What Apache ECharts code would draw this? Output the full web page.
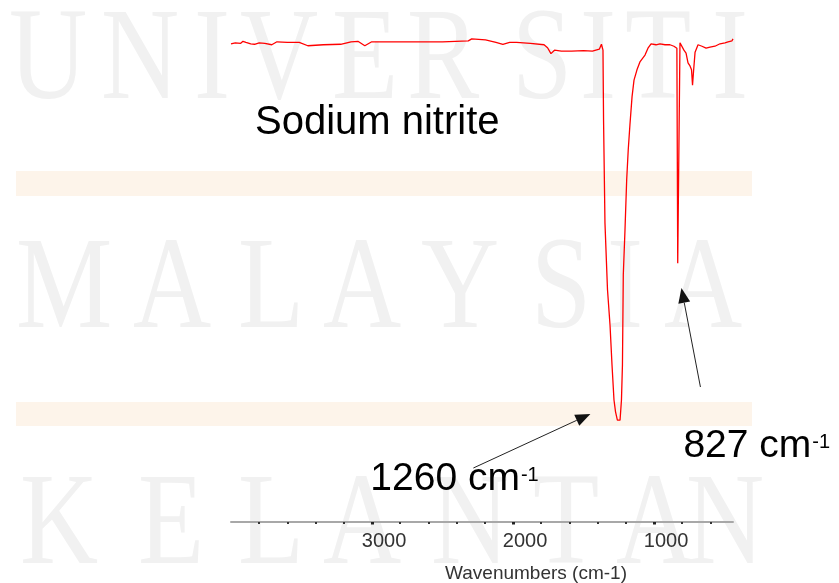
<!DOCTYPE html>
<html>
<head>
<meta charset="utf-8">
<title>Sodium nitrite IR spectrum</title>
<script src="https://cdn.jsdelivr.net/npm/echarts@6/dist/echarts.min.js"></script>
<style>
  html, body { margin: 0; padding: 0; background: #ffffff; }
  #chart { width: 839px; height: 583px; }
</style>
</head>
<body>
<div id="chart"></div>
<script>
// FT-IR spectrum of sodium nitrite (wavenumber in cm-1, % transmittance)
const wavenumber = [
  4000, 3970, 3931, 3915, 3894, 3860, 3833, 3800, 3760, 3711, 3674, 3600, 3516, 3455,
  3400, 3345, 3222, 3149, 3100, 3051, 3002, 2900, 2700, 2500, 2317, 2293, 2195, 2121,
  2072, 2024, 1975, 1877, 1780, 1755, 1731, 1706, 1657, 1584, 1500, 1437, 1388, 1373,
  1362, 1358, 1348, 1330, 1312, 1298, 1284, 1273, 1260, 1241, 1231, 1224, 1218, 1206,
  1194, 1183, 1171, 1156, 1142, 1121, 1100, 1064, 1043, 1021, 1007, 986, 958, 922,
  887, 859, 845, 838, 832, 827, 822, 816, 806, 788, 773, 759, 745, 734, 727, 720,
  709, 688, 660, 631, 603, 568, 532, 497, 475, 461, 447, 440
];
const transmittance = [
  97.2, 97.4, 97.3, 97.7, 97.5, 97.2, 97.1, 97.4, 97.3, 97.0, 97.6, 97.5, 97.5, 96.8,
  96.9, 97.0, 97.1, 97.6, 97.7, 96.8, 97.6, 97.6, 97.6, 97.6, 97.8, 98.2, 98.0, 97.5,
  97.1, 97.5, 97.5, 97.3, 97.0, 96.4, 95.2, 95.9, 95.7, 95.7, 95.8, 95.7, 96.1, 97.1,
  95.9, 81.7, 60.8, 47.2, 40.0, 31.9, 24.8, 22.4, 20.7, 20.7, 24.8, 31.9, 50.2, 59.3,
  69.5, 75.6, 80.7, 86.4, 89.8, 91.9, 93.5, 94.9, 96.3, 97.2, 97.4, 97.0, 97.2, 97.0,
  97.0, 96.7, 96.4, 96.3, 52.6, 52.6, 52.6, 97.4, 97.4, 95.9, 95.3, 93.3, 92.7, 91.9, 88.8, 91.5,
  95.5, 97.0, 96.7, 96.3, 96.5, 96.7, 97.2, 97.4, 97.6, 98.0, 97.8, 98.2
];

// Axis ticks
const majorTicks = [1000, 2000, 3000];
const minorTicks = [600, 800, 1200, 1400, 1600, 1800, 2200, 2400, 2600, 2800, 3200, 3400, 3600, 3800];

// Annotated absorption bands
const peakWavenumbers = [1260, 827];
const peakTexts = ['1260 cm', '827 cm'];

// Background lettering
const bannerRows = ['UNIVERSITI', 'MALAYSIA', 'KELANTAN'];

const chart = echarts.init(document.getElementById('chart'), null, { renderer: 'canvas' });

const points = wavenumber.map((w, i) => [w, transmittance[i]]);

const xCommon = {
  type: 'value',
  min: 440,
  max: 4000,
  inverse: true,
  position: 'bottom',
  offset: 0,
  splitLine: { show: false }
};

chart.setOption({
  animation: false,
  backgroundColor: '#ffffff',
  grid: { left: 231, right: 106, top: 30, bottom: 61, outerBoundsMode: 'none', containLabel: false },
  xAxis: [
    Object.assign({}, xCommon, {
      axisLine: { show: true, lineStyle: { color: '#a8a8a8', width: 2 } },
      axisTick: {
        show: true, length: 2, customValues: minorTicks,
        lineStyle: { color: '#333333', width: 2 }
      },
      axisLabel: {
        show: true, customValues: majorTicks, margin: 9,
        formatter: v => String(v),
        fontFamily: 'Liberation Sans', fontSize: 20, color: '#333333',
        padding: [0, 0, 0, 24]
      },
      name: 'Wavenumbers (cm-1)',
      nameLocation: 'middle',
      nameGap: 42,
      nameTextStyle: {
        fontFamily: 'Liberation Sans', fontSize: 19, color: '#333333',
        padding: [0, 0, 0, 108]
      }
    }),
    Object.assign({}, xCommon, {
      axisLine: { show: false },
      axisTick: {
        show: true, length: 2.5, customValues: majorTicks,
        lineStyle: { color: '#222222', width: 3 }
      },
      axisLabel: { show: false }
    })
  ],
  yAxis: { type: 'value', min: 0, max: 100, show: false },
  series: [{
    type: 'line',
    xAxisIndex: 0,
    data: points,
    showSymbol: false,
    lineStyle: { color: '#ff0000', width: 1.3 },
    z: 5
  }]
});

// Watermark letters: character centre x per row
const bannerCentres = [
  [48, 140, 212, 279, 365, 443, 542, 598, 658, 730],
  [64, 172, 271, 362, 460, 561, 625, 703],
  [59, 171, 271, 362, 470, 566, 655, 725]
];
const bannerRowY = [63, 292, 528];

const graphics = [];
// pale orange bands
[[16, 171, 736, 25], [16, 402, 736, 24]].forEach(b => {
  graphics.push({
    type: 'rect', z: -20, silent: true,
    shape: { x: b[0], y: b[1], width: b[2], height: b[3] },
    style: { fill: '#fdf4ea' }
  });
});
bannerRows.forEach((row, r) => {
  row.split('').forEach((ch, i) => {
    graphics.push({
      type: 'text', z: -10, silent: true,
      x: bannerCentres[r][i], y: bannerRowY[r], scaleX: 0.82,
      style: {
        text: ch, x: 0, y: 0, align: 'center', verticalAlign: 'middle',
        font: '132px "Liberation Serif"', fill: '#f1f1f1'
      }
    });
  });
});

// Title text
graphics.push({
  type: 'text', z: 10,
  style: {
    text: 'Sodium nitrite', x: 255, y: 123, align: 'left', verticalAlign: 'middle',
    font: '40px "Liberation Sans"', fill: '#000000'
  }
});

function arrow(from, to) {
  const dx = to[0] - from[0], dy = to[1] - from[1];
  const len = Math.sqrt(dx * dx + dy * dy);
  const ux = dx / len, uy = dy / len;
  const bx = to[0] - ux * 15, by = to[1] - uy * 15;
  const px = -uy * 6, py = ux * 6;
  return [
    { type: 'line', z: 10, shape: { x1: from[0], y1: from[1], x2: bx, y2: by },
      style: { stroke: '#222222', lineWidth: 1 } },
    { type: 'polygon', z: 10,
      shape: { points: [[to[0], to[1]], [bx + px, by + py], [bx - px, by - py]] },
      style: { fill: '#111111' } }
  ];
}

// Band labels and pointers, placed relative to each band's minimum
const bandPx = peakWavenumbers.map(w => {
  const idx = wavenumber.indexOf(w);
  return chart.convertToPixel({ xAxisIndex: 0, yAxisIndex: 0 }, [w, transmittance[idx]]);
});

const labelSpecs = [
  { text: peakTexts[0], x: bandPx[0][0] - 247, y: 479, from: [bandPx[0][0] - 144, 468], to: [bandPx[0][0] - 27, 414] },
  { text: peakTexts[1], x: bandPx[1][0] + 5, y: 446.5, from: [bandPx[1][0] + 22, 387], to: [bandPx[1][0] + 3, 288] }
];

labelSpecs.forEach(s => {
  const mainFont = '39px "Liberation Sans"';
  const w = echarts.format.getTextRect ? echarts.format.getTextRect(s.text, mainFont).width : s.text.length * 20;
  graphics.push({
    type: 'text', z: 10,
    style: { text: s.text, x: s.x, y: s.y, align: 'left', verticalAlign: 'middle', font: mainFont, fill: '#000000' }
  });
  graphics.push({
    type: 'text', z: 10,
    style: { text: '-1', x: s.x + w + 1, y: s.y - 4, align: 'left', verticalAlign: 'middle', font: '20px "Liberation Sans"', fill: '#000000' }
  });
  arrow(s.from, s.to).forEach(g => graphics.push(g));
});

chart.setOption({ graphic: { elements: graphics } });
</script>
</body>
</html>
